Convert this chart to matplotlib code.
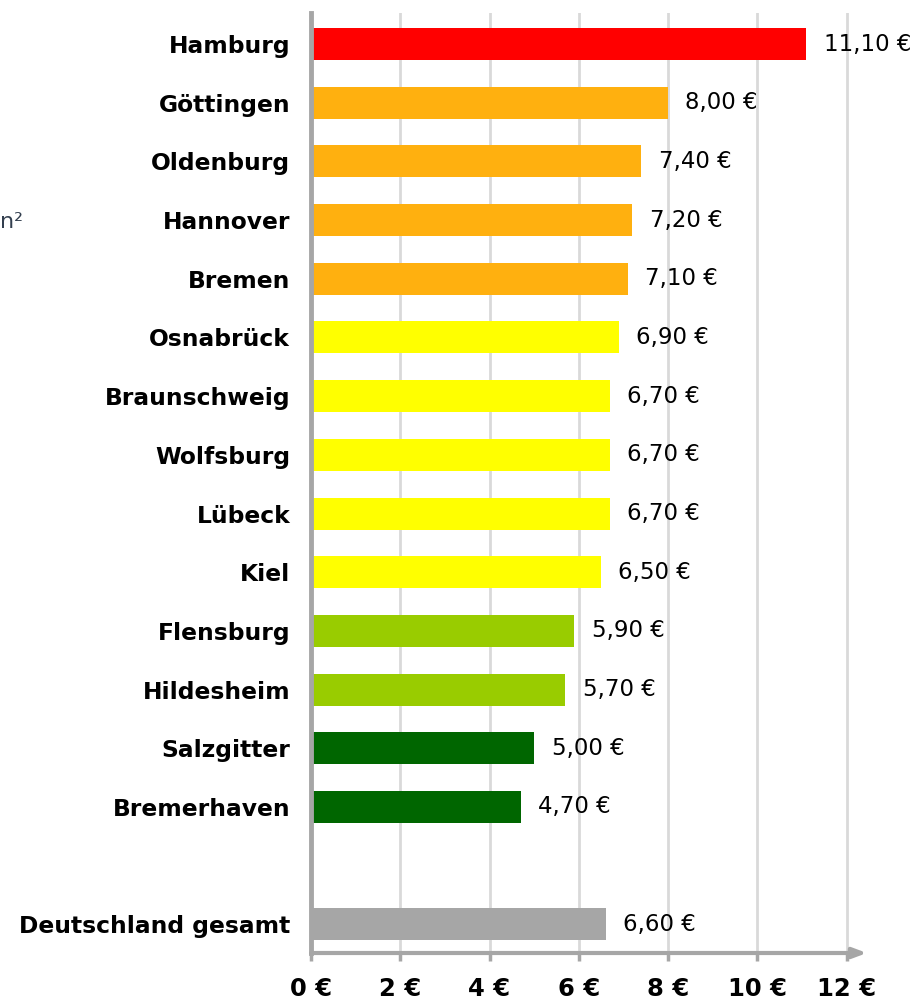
import matplotlib
matplotlib.use("Agg")
import matplotlib.pyplot as plt

cities = ["Hamburg", "Göttingen", "Oldenburg", "Hannover", "Bremen", "Osnabrück",
          "Braunschweig", "Wolfsburg", "Lübeck", "Kiel", "Flensburg", "Hildesheim",
          "Salzgitter", "Bremerhaven", "", "Deutschland gesamt"]
values = [11.10, 8.00, 7.40, 7.20, 7.10, 6.90, 6.70, 6.70, 6.70, 6.50, 5.90, 5.70,
          5.00, 4.70, None, 6.60]
colors = ["#FF0000", "#FFB00F", "#FFB00F", "#FFB00F", "#FFB00F", "#FFFF00", "#FFFF00",
          "#FFFF00", "#FFFF00", "#FFFF00", "#99CC00", "#99CC00", "#006600", "#006600",
          "#FFFFFF", "#A6A6A6"]
xticks = [0, 2, 4, 6, 8, 10, 12]
xticklabels = ["0 €", "2 €", "4 €", "6 €", "8 €", "10 €", "12 €"]

plt.rcParams['font.family'] = ['DejaVu Sans']

fig = plt.figure(figsize=(9.2, 10), dpi=100)
ax = fig.add_axes([311/920, 1-953/1000, (868-311)/920, (953-13)/1000])

pos = list(range(len(cities)))
for i, (v, c) in enumerate(zip(values, colors)):
    if v is None:
        continue
    ax.barh(i, v, height=0.545, color=c, zorder=3)
    ax.annotate(f"{v:.2f}".replace(".", ",") + " €", xy=(v, i), xytext=(12.5, 0),
                textcoords="offset points", va="center", ha="left", fontsize=16.5,
                color="#000000", zorder=4)

ax.set_xlim(0, 12.48)
ax.set_ylim(15.49, -0.53)
ax.set_yticks(pos)
ax.set_yticklabels(cities, fontweight="bold", fontsize=16.8)
ax.tick_params(axis="y", length=0, pad=15)
ax.set_xticks(xticks)
ax.set_xticklabels(xticklabels, fontweight="bold", fontsize=17.5)
ax.tick_params(axis="x", length=6, width=2.5, color="#A6A6A6", pad=11)

ax.grid(axis="x", color="#D9D9D9", linewidth=2, zorder=0)
for s in ["top", "right", "bottom"]:
    ax.spines[s].set_visible(False)
ax.spines["left"].set_color("#A6A6A6")
ax.spines["left"].set_linewidth(3.5)
ax.spines["left"].set_zorder(5)

# bottom axis line with arrow
ax.annotate("", xy=(0.998, 0), xytext=(0, 0), xycoords="axes fraction",
            textcoords="axes fraction",
            arrowprops=dict(arrowstyle="-|>,head_length=0.8,head_width=0.3",
                            color="#A6A6A6", lw=3, shrinkA=0, shrinkB=0),
            zorder=6, annotation_clip=False)

# fragment of a title at left edge
fig.text(0.0, 0.778, "n²", fontsize=16, color="#333F4F", ha="left", va="center")

fig.savefig("out.png", dpi=100)
